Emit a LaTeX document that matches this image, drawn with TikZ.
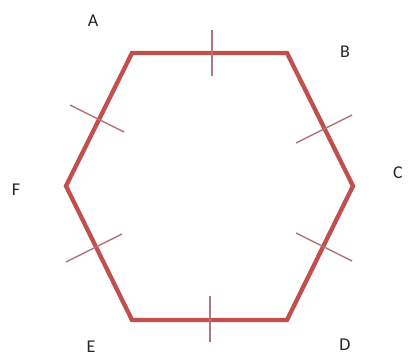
\documentclass[tikz,border=0pt]{standalone}
\usepackage{fontspec}
\setmainfont{Carlito}
\definecolor{hexred}{HTML}{C0504D}
\definecolor{tickc}{HTML}{B5737B}
\begin{document}
\begin{tikzpicture}[x=1pt,y=-1pt,
  side/.style={draw=hexred,line width=4.3pt,line join=miter},
  tickmark/.style={draw=tickc,line width=1.4pt},
  lbl/.style={font=\fontsize{18}{20}\selectfont,text=black!85,inner sep=0pt}]
\useasboundingbox (0,0) rectangle (408,356);
\coordinate (A) at (132,53);
\coordinate (B) at (287,53);
\coordinate (C) at (353,186);
\coordinate (D) at (287,320);
\coordinate (E) at (132,320);
\coordinate (F) at (66,186);
\draw[side] (A) -- (B) -- (C) -- (D) -- (E) -- (F) -- cycle;
% tick marks
\coordinate (t1a) at (212,30); \coordinate (t1b) at (212,76);
\draw[tickmark] (t1a) -- (t1b);
\coordinate (t2a) at (210,296); \coordinate (t2b) at (210,342);
\draw[tickmark] (t2a) -- (t2b);
\coordinate (t3a) at (296,143); \coordinate (t3b) at (352,115);
\draw[tickmark] (t3a) -- (t3b);
\coordinate (t4a) at (296,233); \coordinate (t4b) at (352,261);
\draw[tickmark] (t4a) -- (t4b);
\coordinate (t5a) at (70,105); \coordinate (t5b) at (124,132);
\draw[tickmark] (t5a) -- (t5b);
\coordinate (t6a) at (66,262); \coordinate (t6b) at (122,234);
\draw[tickmark] (t6a) -- (t6b);
% labels
\node[lbl] (lA) at (93,21) {A};
\node[lbl] (lB) at (345,52) {B};
\node[lbl] (lC) at (398,173) {C};
\node[lbl] (lD) at (345,345) {D};
\node[lbl] (lE) at (91,347) {E};
\node[lbl] (lF) at (16,190) {F};
\end{tikzpicture}
\end{document}
